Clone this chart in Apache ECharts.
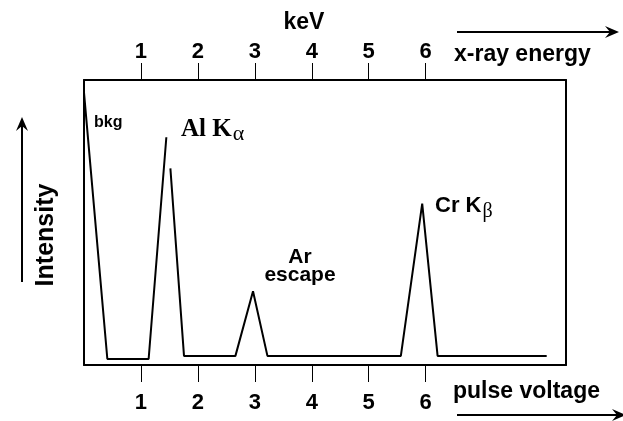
<!DOCTYPE html>
<html>
<head>
<meta charset="utf-8">
<script src="https://cdn.jsdelivr.net/npm/echarts@6/dist/echarts.min.js"></script>
<style>
  html, body { margin: 0; background: #fff; }
  #chart { width: 623px; height: 421px; }
</style>
</head>
<body>
<div id="chart"></div>
<script>
// spectrum trace, x in keV, intensity in arbitrary units (0-100 = box height)
const energy = [0, 0.41, 1.135, 1.446, 1.48, 1.517, 1.756, 2.659, 2.968, 3.221, 5.564, 5.939, 6.209, 8.125];
const intensity = [95.6, 2.1, 2.1, 79.9, '-', 69.0, 3.2, 3.2, 25.9, 3.2, 3.2, 56.6, 3.2, 3.2];
const tickValues = [1, 2, 3, 4, 5, 6];
const tickLabels = ['1', '2', '3', '4', '5', '6'];

const FONT = "'Liberation Sans', Arial, Helvetica, sans-serif";
const SERIF = "'Liberation Serif', 'Times New Roman', serif";

const chart = echarts.init(document.getElementById('chart'));

function xAxisCfg(pos) {
  return {
    type: 'value',
    position: pos,
    min: 0,
    max: 8.464,
    axisLine: { show: true, onZero: false, lineStyle: { color: '#000', width: 2 } },
    axisTick: {
      show: true,
      customValues: tickValues,
      length: 17,
      lineStyle: { color: '#000', width: 1 }
    },
    axisLabel: {
      show: true,
      customValues: tickValues,
      formatter: (v) => tickLabels[tickValues.indexOf(v)],
      margin: pos === 'top' ? 17 : 27,
      color: '#000',
      fontFamily: FONT,
      fontWeight: 'bold',
      fontSize: 22
    },
    splitLine: { show: false }
  };
}

function yAxisCfg(pos) {
  return {
    type: 'value',
    position: pos,
    min: 0,
    max: 100,
    axisLine: { show: true, onZero: false, lineStyle: { color: '#000', width: 2 } },
    axisTick: { show: false },
    axisLabel: { show: false },
    splitLine: { show: false }
  };
}

function arrowHead(x, y, dir) {
  // small filled arrowhead
  let pts;
  if (dir === 'right') pts = [[x, y], [x - 14, y - 6], [x - 9, y], [x - 14, y + 6]];
  else pts = [[x, y], [x - 6, y + 14], [x, y + 9], [x + 6, y + 14]];
  return { type: 'polygon', shape: { points: pts }, style: { fill: '#000' } };
}

chart.setOption({
  animation: false,
  backgroundColor: '#fff',
  grid: { left: 84, right: 57, top: 80, bottom: 56 },
  xAxis: [xAxisCfg('bottom'), xAxisCfg('top')],
  yAxis: [yAxisCfg('left'), yAxisCfg('right')],
  series: [{
    type: 'line',
    xAxisIndex: 0,
    yAxisIndex: 0,
    data: energy.map((e, i) => [e, intensity[i]]),
    showSymbol: false,
    connectNulls: false,
    lineStyle: { color: '#000', width: 2 }
  }],
  graphic: [
    { type: 'text', x: 304, y: 23, style: { text: 'keV', font: 'bold 23px ' + FONT, fill: '#000', align: 'center', verticalAlign: 'middle' } },
    { type: 'text', left: 454, top: 43, style: { text: 'x-ray energy', font: 'bold 23px ' + FONT, fill: '#000' } },
    { type: 'line', shape: { x1: 457, y1: 32, x2: 612, y2: 32 }, style: { stroke: '#000', lineWidth: 2 } },
    arrowHead(619, 32, 'right'),
    { type: 'text', left: 453, top: 380, style: { text: 'pulse voltage', font: 'bold 23px ' + FONT, fill: '#000' } },
    { type: 'line', shape: { x1: 457, y1: 415, x2: 618, y2: 415 }, style: { stroke: '#000', lineWidth: 2 } },
    arrowHead(626, 415, 'right'),
    { type: 'line', shape: { x1: 22, y1: 282, x2: 22, y2: 124 }, style: { stroke: '#000', lineWidth: 2 } },
    arrowHead(22, 117, 'up'),
    {
      type: 'text', x: 46, y: 235, rotation: Math.PI / 2,
      style: { text: 'Intensity', font: 'bold 25px ' + FONT, fill: '#000', align: 'center', verticalAlign: 'middle' }
    },
    { type: 'text', left: 94, top: 115, style: { text: 'bkg', font: 'bold 16px ' + FONT, fill: '#000' } },
    {
      type: 'text', left: 181, top: 117,
      style: {
        text: '{a|Al K}{s|α}',
        rich: {
          a: { font: 'bold 25px ' + SERIF, fill: '#000' },
          s: { font: '22px ' + SERIF, fill: '#000', padding: [10, 0, 0, 1] }
        }
      }
    },
    {
      type: 'text', x: 300, y: 266,
      style: { text: 'Ar\nescape', font: 'bold 21px ' + FONT, fill: '#000', align: 'center', verticalAlign: 'middle', lineHeight: 18 }
    },
    {
      type: 'text', left: 435, top: 195,
      style: {
        text: '{a|Cr K}{s|β}',
        rich: {
          a: { font: 'bold 22px ' + FONT, fill: '#000' },
          s: { font: '20px ' + SERIF, fill: '#000', padding: [12, 0, 0, 1] }
        }
      }
    }
  ]
});
</script>
</body>
</html>
